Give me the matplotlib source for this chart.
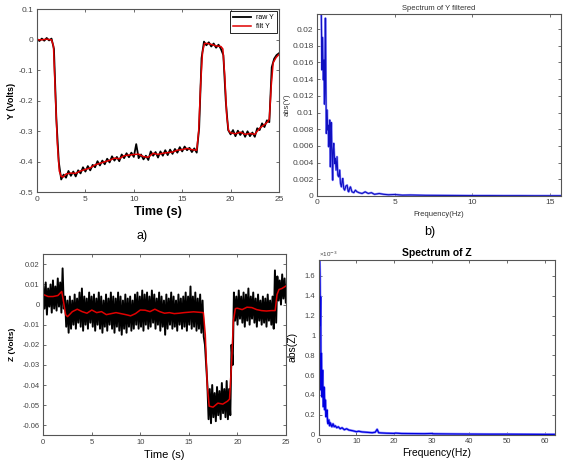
import numpy as np
import matplotlib
matplotlib.use("Agg")
import matplotlib.pyplot as plt
from matplotlib.ticker import FuncFormatter

plt.rcParams['font.family'] = ['Liberation Sans', 'DejaVu Sans']
plt.rcParams['axes.unicode_minus'] = False

# ---- a) Y signal (Volts) ----
y_raw = [0.003, -0.004, 0.004, -0.003, 0.006, -0.002, 0.004, -0.03, -0.26, -0.40,
         -0.458, -0.442, -0.452, -0.43, -0.446, -0.432, -0.448, -0.428, -0.438, -0.418,
         -0.432, -0.414, -0.428, -0.41, -0.418, -0.398, -0.412, -0.396, -0.408, -0.39,
         -0.402, -0.382, -0.396, -0.384, -0.398, -0.376, -0.388, -0.372, -0.385, -0.37,
         -0.384, -0.342, -0.388, -0.376, -0.392, -0.38, -0.394, -0.366, -0.38, -0.368,
         -0.386, -0.366, -0.38, -0.362, -0.378, -0.36, -0.374, -0.358, -0.37, -0.352,
         -0.366, -0.35, -0.362, -0.354, -0.368, -0.356, -0.37, -0.29, -0.06, -0.006,
         -0.018, -0.008, -0.022, -0.012, -0.026, -0.016, -0.03, -0.05, -0.2, -0.296,
         -0.31, -0.296, -0.316, -0.298, -0.312, -0.3, -0.318, -0.3, -0.316, -0.304,
         -0.318, -0.29, -0.296, -0.274, -0.286, -0.264, -0.27, -0.09, -0.062, -0.05,
         -0.044]
t_yfilt = [0, 0.5, 1.0, 1.5, 1.7, 1.9, 2.1, 2.3, 2.5, 2.7, 3.0, 3.5, 4.0, 4.5, 5.0,
           5.5, 6.0, 6.5, 7.0, 7.5, 8.0, 8.5, 9.0, 9.5, 10.0, 10.5, 11.0, 11.5, 12.0,
           12.5, 13.0, 13.5, 14.0, 14.5, 15.0, 15.5, 16.0, 16.5, 16.7, 16.9, 17.1,
           17.3, 17.6, 18.0, 18.5, 19.0, 19.2, 19.4, 19.6, 19.8, 20.0, 20.5, 21.0,
           21.5, 22.0, 22.5, 23.0, 23.5, 23.8, 24.0, 24.2, 24.4, 24.7, 25.0]
y_filt = [0.0, 0.0, 0.002, 0.0, -0.02, -0.18, -0.34, -0.43, -0.448, -0.45, -0.44,
          -0.437, -0.438, -0.43, -0.425, -0.42, -0.41, -0.405, -0.40, -0.395, -0.388,
          -0.39, -0.38, -0.378, -0.376, -0.375, -0.383, -0.385, -0.372, -0.376, -0.372,
          -0.37, -0.368, -0.362, -0.36, -0.356, -0.36, -0.362, -0.30, -0.15, -0.04,
          -0.012, -0.012, -0.015, -0.02, -0.022, -0.03, -0.12, -0.25, -0.298, -0.305,
          -0.308, -0.303, -0.31, -0.307, -0.31, -0.29, -0.278, -0.27, -0.26, -0.15,
          -0.075, -0.058, -0.048]

# ---- b) spectrum of Y filtered ----
f_y = [0.2, 0.25, 0.28, 0.32, 0.35, 0.37, 0.41, 0.45, 0.48, 0.5, 0.54, 0.56, 0.6,
       0.65, 0.69, 0.72, 0.75, 0.79, 0.82, 0.86, 0.89, 0.92, 0.97, 1.01, 1.04, 1.08,
       1.14, 1.18, 1.23, 1.29, 1.34, 1.4, 1.46, 1.51, 1.57, 1.62, 1.66, 1.72, 1.78,
       1.86, 1.94, 2.0, 2.04, 2.1, 2.15, 2.25, 2.37, 2.47, 2.58, 2.7, 2.9, 3.1, 3.3,
       3.5, 3.7, 4.0, 4.3, 4.6, 5.0, 5.5, 6.0, 7.0, 8.0, 9.0, 10.0, 11.0, 12.0, 13.0,
       14.0, 15.0, 15.7]
spec_y = [0.03, 0.024, 0.0215, 0.0151, 0.019, 0.0171, 0.0139, 0.0163, 0.011, 0.0123,
          0.0213, 0.0167, 0.0075, 0.0103, 0.0079, 0.0085, 0.0059, 0.0075, 0.0091,
          0.0035, 0.0065, 0.0088, 0.0047, 0.0019, 0.0055, 0.0063, 0.0039, 0.0045,
          0.0031, 0.0047, 0.0025, 0.0023, 0.0031, 0.0015, 0.0011, 0.0018, 0.0021,
          0.0009, 0.0007, 0.0012, 0.0013, 0.0006, 0.0005, 0.0009, 0.0011, 0.0005,
          0.0004, 0.0007, 0.0005, 0.0004, 0.0003, 0.0005, 0.0003, 0.0004, 0.0002,
          0.0003, 0.0002, 0.00015, 0.00018, 0.0001, 0.00012, 0.00008, 0.00007,
          0.00006, 0.00005, 0.00005, 0.00004, 0.00004, 0.00003, 0.00003, 0.00003]

# ---- c) Z signal (Volts): raw high/low samples every 0.25 s, and fit ----
z_upper = [0.009, 0.011, 0.008, 0.010, 0.012, 0.009, 0.013, 0.011, 0.018, 0.004,
           0.002, 0.004, 0.002, 0.005, 0.003, 0.006, 0.008, 0.004, 0.003, 0.006,
           0.004, 0.005, 0.003, 0.006, 0.004, 0.002, 0.005, 0.003, 0.006, 0.004,
           0.003, 0.006, 0.004, 0.002, 0.005, 0.003, 0.004, 0.002, 0.005, 0.006,
           0.004, 0.007, 0.005, 0.006, 0.004, 0.007, 0.005, 0.003, 0.006, 0.004,
           0.002, 0.005, 0.003, 0.006, 0.004, 0.002, 0.005, 0.003, 0.004, 0.006,
           0.004, 0.009, 0.004, 0.006, 0.003, 0.005, 0.002, -0.02, -0.04, -0.042,
           -0.04, -0.044, -0.041, -0.043, -0.039, -0.042, -0.038, -0.042, -0.02, 0.006,
           0.004, 0.007, 0.004, 0.006, 0.005, 0.008, 0.004, 0.006, 0.003, 0.005,
           0.002, 0.004, 0.003, 0.005, 0.002, 0.004, 0.017, 0.014, 0.012, 0.015,
           0.013]
z_lower = [-0.002, -0.005, -0.001, -0.004, -0.002, -0.003, -0.001, -0.004, -0.002, -0.011,
           -0.014, -0.012, -0.010, -0.012, -0.009, -0.011, -0.013, -0.010, -0.012, -0.009,
           -0.011, -0.013, -0.010, -0.012, -0.014, -0.011, -0.013, -0.010, -0.012, -0.014,
           -0.011, -0.013, -0.015, -0.012, -0.014, -0.011, -0.013, -0.012, -0.010, -0.012,
           -0.011, -0.013, -0.010, -0.012, -0.011, -0.009, -0.012, -0.010, -0.013, -0.011,
           -0.015, -0.012, -0.010, -0.012, -0.011, -0.013, -0.010, -0.012, -0.011, -0.013,
           -0.010, -0.012, -0.011, -0.013, -0.012, -0.014, -0.016, -0.03, -0.057, -0.059,
           -0.056, -0.058, -0.055, -0.057, -0.054, -0.056, -0.057, -0.055, -0.03, -0.008,
           -0.010, -0.007, -0.009, -0.011, -0.008, -0.010, -0.007, -0.009, -0.011, -0.008,
           -0.010, -0.009, -0.011, -0.008, -0.010, -0.012, -0.009, 0.002, 0.000, 0.003,
           0.001]
t_zfilt = [0, 0.5, 1.0, 1.5, 1.9, 2.1, 2.3, 2.5, 3.0, 3.5, 4.0, 4.5, 5.0, 5.5, 6.0,
           6.5, 7.0, 7.5, 8.0, 8.5, 9.0, 9.5, 10.0, 10.5, 11.0, 11.5, 12.0, 12.5, 13.0,
           13.5, 14.0, 14.5, 15.0, 15.5, 16.0, 16.5, 16.7, 16.9, 17.1, 17.5, 18.0, 18.5,
           19.0, 19.2, 19.4, 19.6, 19.8, 20.0, 20.5, 21.0, 21.5, 22.0, 22.5, 23.0, 23.5,
           23.9, 24.1, 24.3, 24.6, 25.0]
z_filt = [0.005, 0.004, 0.004, 0.0045, 0.0065, 0.001, -0.005, -0.006, -0.0035, -0.0023,
          -0.0035, -0.0043, -0.0027, -0.004, -0.0035, -0.005, -0.0045, -0.004, -0.0045,
          -0.005, -0.0056, -0.0045, -0.0027, -0.0028, -0.0035, -0.0023, -0.0035, -0.0043,
          -0.004, -0.0045, -0.0043, -0.004, -0.0038, -0.0036, -0.0038, -0.004, -0.015,
          -0.04, -0.0505, -0.051, -0.049, -0.0495, -0.048, -0.047, -0.03, -0.008, -0.002,
          -0.0018, -0.0025, -0.0013, -0.0015, -0.0025, -0.003, -0.0032, -0.003, -0.003,
          0.005, 0.0075, 0.008, 0.0092]

# ---- d) spectrum of Z (x 1e-3) ----
f_z = [0.1, 0.18, 0.35, 0.45, 0.53, 0.6, 0.7, 0.8, 0.88, 0.97, 1.06, 1.15, 1.24, 1.32,
       1.4, 1.5, 1.6, 1.68, 1.77, 1.86, 1.95, 2.05, 2.2, 2.35, 2.5, 2.7, 2.9, 3.1, 3.3,
       3.5, 3.8, 4.1, 4.4, 4.8, 5.2, 5.7, 6.2, 6.8, 7.4, 8.0, 9.0, 10.0, 10.6, 11.5,
       12.5, 13.5, 14.2, 15.0, 15.5, 15.9, 16.5, 18.0, 20.0, 20.4, 22.0, 25.0, 28.0,
       30.0, 30.5, 33.0, 36.0, 40.0, 45.0, 50.0, 55.0, 60.0, 62.5]
spec_z = [2.5, 1.9, 1.59, 1.1, 1.39, 0.45, 0.82, 0.55, 0.38, 0.5, 0.65, 0.4, 0.28, 0.42,
          0.48, 0.46, 0.25, 0.3, 0.35, 0.22, 0.18, 0.2, 0.25, 0.13, 0.11, 0.15, 0.09,
          0.12, 0.1, 0.08, 0.11, 0.08, 0.09, 0.07, 0.08, 0.06, 0.07, 0.05, 0.06, 0.047,
          0.04, 0.03, 0.035, 0.028, 0.025, 0.022, 0.02, 0.025, 0.054, 0.02, 0.018, 0.015,
          0.013, 0.016, 0.012, 0.011, 0.01, 0.012, 0.009, 0.008, 0.007, 0.006, 0.005,
          0.005, 0.004, 0.003, 0.003]

W, H = 564, 467
fig = plt.figure(figsize=(W / 100, H / 100), dpi=100)


def px_axes(left, top, right, bottom):
    return fig.add_axes([left / W, 1 - bottom / H, (right - left) / W, (bottom - top) / H])


def tick_fmt(v, p):
    return '%g' % (round(v, 6) + 0.0)


def matlab_style(ax, size=6):
    for s in ax.spines.values():
        s.set_color('#555555')
        s.set_linewidth(0.8)
    ax.tick_params(direction='in', top=True, right=True, length=2.5, width=0.6,
                   colors='#555555', labelcolor='#444444', labelsize=size, pad=2.5)
    ax.xaxis.set_major_formatter(FuncFormatter(tick_fmt))
    ax.yaxis.set_major_formatter(FuncFormatter(tick_fmt))


# a)
ax = px_axes(37, 9.3, 279, 192.3)
t_raw = np.linspace(0, 25, len(y_raw))
ax.plot(t_raw, y_raw, color='black', lw=1.3, label='raw Y')
ax.plot(t_yfilt, y_filt, color='#e00000', lw=1.1, label='filt Y')
ax.set_xlim(0, 25)
ax.set_ylim(-0.5, 0.1)
ax.set_xticks(range(0, 26, 5))
ax.set_yticks(np.arange(-0.5, 0.11, 0.1))
matlab_style(ax, 6)
ax.set_xlabel('Time (s)', fontsize=9, fontweight='bold', labelpad=2)
ax.set_ylabel('Y (Volts)', fontsize=6.5, fontweight='bold', labelpad=2)
leg = ax.legend(loc='upper right', fontsize=5, fancybox=False, edgecolor='black',
                handlelength=2.6, borderaxespad=0.3, labelspacing=0.3, framealpha=1)
leg.get_frame().set_linewidth(0.6)

# b)
ax = px_axes(317, 14, 561, 196)
ax.plot(f_y, spec_y, color='#9090ff', lw=1.6)
ax.plot(f_y, spec_y, color='#1010c0', lw=0.8)
ax.set_xlim(0, 15.7)
ax.set_ylim(0, 0.0218)
ax.set_xticks([0, 5, 10, 15])
ax.set_yticks(np.arange(0, 0.0201, 0.002))
matlab_style(ax, 6)
ax.set_title('Spectrum of Y filtered', fontsize=5.5, pad=3, color='#333333')
ax.set_xlabel('Frequency(Hz)', fontsize=5.5, labelpad=3, color='#333333')
ax.set_ylabel('abs(Y)', fontsize=5.5, labelpad=1, color='#333333')

# c) raw Z drawn as a high/low zigzag
ax = px_axes(43.3, 254.3, 285.8, 435.3)
z_zig = np.empty(2 * len(z_upper))
z_zig[0::2] = z_upper
z_zig[1::2] = z_lower
t_zig = np.linspace(0, 25, len(z_zig))
ax.plot(t_zig, z_zig, color='black', lw=1.4)
ax.plot(t_zfilt, z_filt, color='#e00000', lw=1.1)
ax.set_xlim(0, 25)
ax.set_ylim(-0.065, 0.025)
ax.set_xticks(range(0, 26, 5))
ax.set_yticks(np.arange(-0.06, 0.021, 0.01))
matlab_style(ax, 5.5)
ax.set_xlabel('Time (s)', fontsize=8, labelpad=3)
ax.set_ylabel('Z (Volts)', fontsize=6, fontweight='bold', labelpad=5)

# d)
ax = px_axes(318.7, 260, 554.7, 434.7)
ax.plot(f_z, spec_z, color='#9090ff', lw=1.8)
ax.plot(f_z, spec_z, color='#0000e0', lw=0.9)
ax.set_xlim(0, 62.6)
ax.set_ylim(0, 1.76)
ax.set_xticks(range(0, 61, 10))
ax.set_yticks(np.arange(0, 1.61, 0.2))
matlab_style(ax, 5.5)
ax.set_title('Spectrum of Z', fontsize=7.5, pad=3, fontweight='semibold')
ax.set_xlabel('Frequency(Hz)', fontsize=7.5, labelpad=2)
ax.set_ylabel('abs(Z)', fontsize=7.5, labelpad=5)
ax.text(0, 1.005, '×10$^{-3}$', transform=ax.transAxes, fontsize=4.5,
        color='#444444', va='bottom', ha='left')

fig.text(142 / W, 1 - 236 / H, 'a)', fontsize=9, ha='center', va='center')
fig.text(430 / W, 1 - 232 / H, 'b)', fontsize=9, ha='center', va='center')

fig.savefig('out.png', dpi=100)
